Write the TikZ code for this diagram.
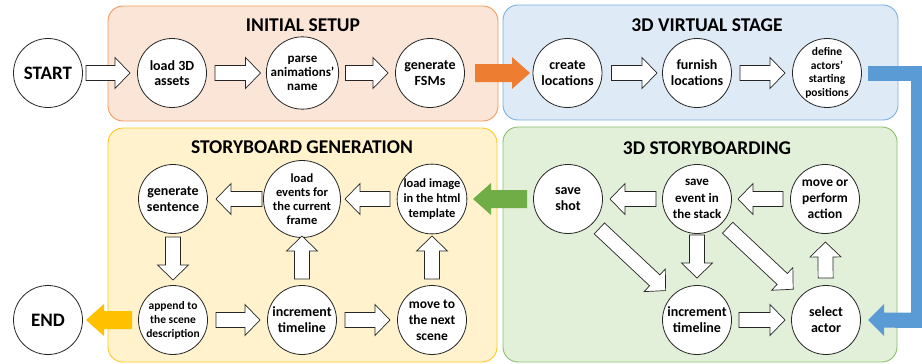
\documentclass[tikz,border=0pt]{standalone}
\usepackage{fontspec}
\setmainfont{Carlito}
\usetikzlibrary{calc}
\definecolor{orA}{HTML}{ED7D31}
\definecolor{orF}{HTML}{FBE5D6}
\definecolor{orD}{HTML}{F19A5C}
\definecolor{blA}{HTML}{5B9BD5}
\definecolor{blF}{HTML}{DEEBF7}
\definecolor{blD}{HTML}{7DAFDE}
\definecolor{grA}{HTML}{70AD47}
\definecolor{grF}{HTML}{E2F0D9}
\definecolor{grD}{HTML}{8CBE6C}
\definecolor{yeA}{HTML}{FFC000}
\definecolor{yeF}{HTML}{FFF2CC}
\definecolor{yeD}{HTML}{FFC820}
\def\shw{7.5pt}\def\hhw{15.5pt}\def\hl{15pt}
% block arrow: [style]{from}{to}{start distance}{end distance}
\newcommand\barrow[5][]{%
  \coordinate (ba-A) at ($(#2)!#4!(#3)$);
  \coordinate (ba-B) at ($(#3)!#5!(#2)$);
  \coordinate (ba-C) at ($(ba-B)!\hl!(ba-A)$);
  \path[#1] ($(ba-A)!\shw!90:(ba-B)$) -- ($(ba-C)!\shw!90:(ba-B)$)
    -- ($(ba-C)!\hhw!90:(ba-B)$) -- (ba-B) -- ($(ba-C)!\hhw!-90:(ba-B)$)
    -- ($(ba-C)!\shw!-90:(ba-B)$) -- ($(ba-A)!\shw!-90:(ba-B)$) -- cycle;
}
\tikzset{
  panel/.style={rounded corners=15pt, line width=0.9pt},
  ttl/.style={font=\bfseries\fontsize{19.5}{21}\selectfont},
  st/.style={circle, draw=black!85, line width=0.8pt, fill=white, minimum size=69pt, inner sep=0pt, align=center, font=\bfseries\fontsize{14}{15.5}\selectfont},
  wa/.style={draw=black!85, fill=white, line width=0.7pt, line join=miter},
}
\begin{document}
\begin{tikzpicture}[x=1pt, y=-1pt]
\useasboundingbox (0,0) rectangle (922,364);
% panels
\draw[panel, fill=orF, draw=orD] (108,6) rectangle (498,121);
\draw[panel, fill=blF, draw=blD] (503,5) rectangle (898,120);
\draw[panel, fill=yeF, draw=yeD] (108,128) rectangle (497,362);
\draw[panel, fill=grF, draw=grD] (503,127) rectangle (897,362);
\node[ttl] (t1) at (303,25) {INITIAL SETUP};
\node[ttl] (t2) at (707,25) {3D VIRTUAL STAGE};
\node[ttl] (t3) at (302,147) {STORYBOARD GENERATION};
\node[ttl] (t4) at (707,148) {3D STORYBOARDING};
% nodes
\node[st, font=\bfseries\fontsize{19}{21}\selectfont] (start) at (48,73) {START};
\node[st] (load) at (172,73) {load 3D\\assets};
\node[st, font=\bfseries\fontsize{13}{14}\selectfont] (parse) at (302.5,73) {parse\\animations’\\name};
\node[st] (fsm) at (430,73) {generate\\FSMs};
\node[st] (create) at (567.5,73) {create\\locations};
\node[st, font=\bfseries\fontsize{14}{16}\selectfont] (furnish) at (697,73) {furnish\\locations};
\node[st, font=\bfseries\fontsize{11.5}{13.7}\selectfont] (define) at (827,73) {define\\actors’\\starting\\positions};
\node[st] (gensent) at (173,199) {generate\\sentence};
\node[st, font=\bfseries\fontsize{12.5}{14}\selectfont] (loadev) at (302,199) {load\\events for\\the current\\frame};
\node[st, font=\bfseries\fontsize{12.5}{15}\selectfont] (loadimg) at (432,199) {load image\\in the html\\template};
\node[st, font=\bfseries\fontsize{19}{21}\selectfont] (end) at (48,320) {END};
\node[st, font=\bfseries\fontsize{11.5}{14}\selectfont] (append) at (173,320) {append to\\the scene\\description};
\node[st, font=\bfseries\fontsize{14}{16}\selectfont] (incA) at (302,320) {increment\\timeline};
\node[st, font=\bfseries\fontsize{13.5}{16}\selectfont] (movesc) at (432,320) {move to\\the next\\scene};
\node[st, font=\bfseries\fontsize{14}{16}\selectfont] (shot) at (568,199) {save\\shot};
\node[st, font=\bfseries\fontsize{13}{16.5}\selectfont] (saveev) at (697,199) {save\\event in\\the stack};
\node[st, font=\bfseries\fontsize{13.5}{16}\selectfont] (moveor) at (825,199) {move or\\perform\\action};
\node[st, font=\bfseries\fontsize{14}{16}\selectfont] (incB) at (697,320) {increment\\timeline};
\node[st, font=\bfseries\fontsize{14}{16}\selectfont] (select) at (826,320) {select\\actor};
% white block arrows
\barrow[wa]{start}{load}{38pt}{42pt}
\barrow[wa]{load}{parse}{43pt}{42pt}
\barrow[wa]{parse}{fsm}{43pt}{42pt}
\barrow[wa]{create}{furnish}{44pt}{40pt}
\barrow[wa]{furnish}{define}{43pt}{42pt}
\barrow[wa]{loadimg}{loadev}{42pt}{43pt}
\barrow[wa]{loadev}{gensent}{40pt}{43pt}
\barrow[wa]{gensent}{append}{38pt}{40pt}
\barrow[wa]{append}{incA}{43pt}{42pt}
\barrow[wa]{incA}{movesc}{43pt}{42pt}
\barrow[wa]{incA}{loadev}{41pt}{37pt}
\barrow[wa]{movesc}{loadimg}{41pt}{37pt}
\barrow[wa]{moveor}{saveev}{42pt}{41pt}
\barrow[wa]{saveev}{shot}{41pt}{42pt}
\barrow[wa]{saveev}{incB}{36pt}{42pt}
\barrow[wa]{shot}{incB}{43pt}{43pt}
\barrow[wa]{saveev}{select}{42pt}{45pt}
\barrow[wa]{incB}{select}{42pt}{41pt}
\barrow[wa]{select}{moveor}{42pt}{43pt}
% coloured arrows
{\def\shw{9pt}\def\hhw{16pt}\def\hl{18pt}
\barrow[fill=orA]{fsm}{create}{45pt}{37.5pt}
\barrow[fill=grA]{shot}{loadimg}{41pt}{41pt}
\barrow[fill=yeA]{append}{end}{41pt}{38pt}
}
% blue connector
\coordinate (bc1) at ($(define)+(41,0)$);
\coordinate (bc2) at (918,73);
\coordinate (bc3) at (918,320);
\coordinate (bc4) at (895,320);
\draw[blA, line width=15pt, line join=miter] (bc1) -- (bc2) -- (bc3) -- (bc4);
{\def\shw{7.5pt}\def\hhw{16pt}\def\hl{16pt}
\barrow[fill=blA]{bc3}{select}{0pt}{42pt}
}
\end{tikzpicture}
\end{document}
